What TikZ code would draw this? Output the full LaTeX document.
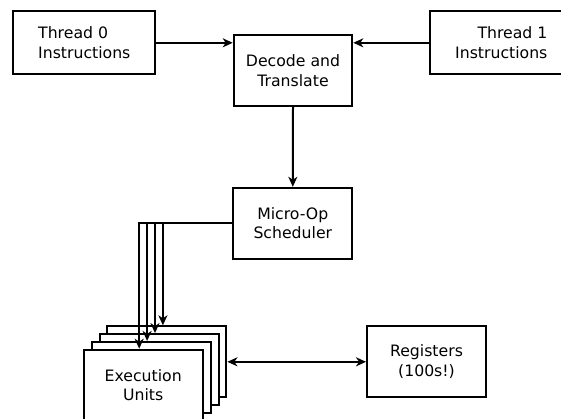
\documentclass[tikz,border=0pt]{standalone}
\usepackage{fontspec}
\setmainfont{DejaVu Sans}
\usetikzlibrary{arrows.meta}
\begin{document}
\begin{tikzpicture}[x=1pt,y=-1pt,
  box/.style={draw, line width=2pt, fill=white, inner sep=0pt,
    minimum width=119pt, minimum height=71pt,
    font=\fontsize{15.7}{19.6}\selectfont},
  conn/.style={line width=2pt, -{Stealth[length=10pt,width=9pt,inset=3pt]}},
  dconn/.style={line width=2pt, {Stealth[length=10pt,width=9pt,inset=3pt]}-{Stealth[length=10pt,width=9pt,inset=3pt]}},
  ]
\useasboundingbox (0,0) rectangle (561,418);
\clip (0,0) rectangle (561,418);
\node[box, minimum width=142pt, minimum height=63pt, align=left] (t0) at (84.3,42.8) {Thread 0\\Instructions};
\node[box, minimum width=142pt, minimum height=63pt, align=right] (t1) at (501.3,42.8) {Thread 1\\Instructions};
\node[box, minimum width=118.6pt, align=center] (dec) at (293,70.4) {Decode and\\Translate};
\node[box, align=center] (mo) at (292.8,223.3) {Micro-Op\\Scheduler};
\node[box, align=center] (reg) at (426.5,361.8) {Registers\\(100s!)};
\node[box] (e3) at (166.9,361.8) {};
\node[box] (e2) at (159,369.6) {};
\node[box] (e1) at (151.1,377.4) {};
\node[box, align=center] (e0) at (143.2,385.2) {Execution\\Units};
\draw[conn] (t0.east) -- (t0.east -| dec.west);
\draw[conn] (t1.west) -- (t1.west -| dec.east);
\draw[conn] (dec.south) -- (mo.north);
\foreach \n in {e0,e1,e2,e3} \draw[conn] (mo.west) -| ([xshift=-4pt]\n.north);
\draw[dconn] (e3.east) -- (reg.west);
\end{tikzpicture}
\end{document}
